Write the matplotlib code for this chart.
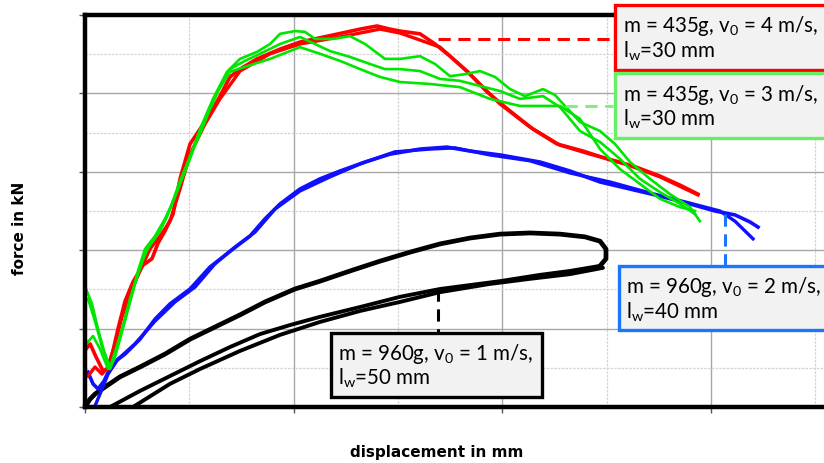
import matplotlib
matplotlib.use("Agg")
import matplotlib.pyplot as plt
from matplotlib.ticker import MultipleLocator

# drop tests, displacement in mm / force in kN
red_1_x = [0.1, 0.5, 1.05, 1.73, 2.2, 2.68, 3.16, 3.84, 4.6, 5.56, 6.42, 7.0, 7.67, 8.44, 9.11, 10.07,
           11.03, 12.27, 12.94, 13.9, 14.86, 16.49, 18.7, 20.61, 23.78, 26.37, 28.0, 29.24, 30.2, 32.12,
           33.56, 35.0, 36.62, 38.54, 40.75, 42.95, 45.25, 47.75, 50.62, 52.54, 55.13, 57.05, 58.77]
red_1_y = [1.48, 1.61, 1.28, 0.92, 0.97, 1.43, 1.99, 2.70, 3.19, 3.62, 3.78, 4.18, 4.49, 4.92, 5.82, 6.71,
           7.09, 7.60, 7.93, 8.42, 8.62, 8.88, 9.13, 9.31, 9.49, 9.64, 9.72, 9.64, 9.59, 9.52,
           9.26, 8.95, 8.57, 8.04, 7.55, 7.09, 6.71, 6.53, 6.28, 6.15, 5.89, 5.66, 5.43]
red_2_x = [0.29, 0.96, 1.63, 2.2, 2.88, 3.55, 4.31, 5.27, 6.23, 7.19, 8.15, 9.11, 10.07, 11.51, 12.94,
           14.86, 17.74, 20.61, 24.45, 28.28, 30.2, 34.04, 36.91, 39.79, 42.67, 45.54, 48.42, 51.29,
           55.13, 58.77]
red_2_y = [0.79, 1.02, 0.84, 1.02, 1.61, 2.30, 2.88, 3.47, 4.03, 4.36, 4.74, 5.56, 6.45, 7.22, 7.86,
           8.57, 9.01, 9.26, 9.44, 9.64, 9.54, 9.18, 8.49, 7.73, 7.14, 6.68, 6.45, 6.25,
           5.87, 5.41]

green_1_x = [0.1, 0.67, 1.25, 1.82, 2.4, 2.88, 3.36, 3.93, 4.51, 5.08, 5.75, 6.71, 7.67, 8.34, 9.11,
             10.07, 11.03, 12.27, 13.61, 14.86, 16.49, 17.74, 18.7, 20.13, 21.09, 22.05, 23.78, 25.41,
             26.85, 28.76, 30.2, 32.12, 33.56, 35.0, 36.43, 37.87, 39.31, 40.75, 42.19, 43.91, 45.06,
             46.02, 47.46, 49.38, 50.81, 52.25, 54.17, 56.09, 58.0, 58.96]
green_1_y = [3.01, 2.63, 1.99, 1.43, 0.97, 1.28, 1.79, 2.30, 2.88, 3.47, 4.03, 4.36, 4.80, 5.18, 5.69,
             6.33, 7.09, 7.86, 8.55, 8.88, 9.06, 9.26, 9.52, 9.59, 9.57, 9.39, 9.39, 9.46,
             9.26, 8.88, 8.88, 8.95, 8.75, 8.44, 8.49, 8.57, 8.42, 8.11, 7.93, 8.11, 7.96,
             7.68, 7.27, 7.04, 6.71, 6.25, 5.82, 5.43, 5.10, 4.74]
green_2_x = [0.1, 0.77, 1.44, 2.21, 2.78, 3.36, 4.12, 4.79, 5.47, 6.23, 7.19, 8.15, 9.11, 10.07, 11.03,
             11.98, 12.94, 13.9, 15.34, 16.78, 18.7, 20.61, 22.05, 23.49, 25.41, 27.32, 28.76, 30.2,
             32.12, 34.04, 35.95, 37.87, 39.79, 41.71, 43.91, 45.54, 47.46, 49.38, 51.29, 53.21,
             55.13, 57.05, 58.49]
green_2_y = [1.61, 1.81, 1.48, 0.97, 1.22, 1.73, 2.50, 3.14, 3.72, 4.16, 4.49, 5.05, 5.77, 6.38, 6.96,
             7.60, 8.16, 8.62, 8.83, 9.01, 9.26, 9.44, 9.26, 9.08, 8.93, 8.75, 8.62, 8.62,
             8.57, 8.37, 8.32, 8.19, 8.06, 7.86, 7.93, 7.65, 7.04, 6.76, 6.33, 5.82,
             5.48, 5.18, 4.92]
green_3_x = [0.29, 0.96, 1.63, 2.4, 2.97, 3.55, 4.31, 5.08, 5.85, 6.81, 7.77, 8.72, 9.68, 10.64, 11.6,
             12.75, 13.9, 15.82, 17.74, 19.65, 20.61, 22.53, 24.45, 26.37, 28.28, 30.2, 33.08, 35.95,
             38.83, 41.71, 45.54, 47.46, 49.38, 51.29, 53.21, 55.13, 57.05, 58.49]
green_3_y = [2.76, 2.19, 1.53, 1.02, 1.48, 1.99, 2.76, 3.39, 3.98, 4.34, 4.80, 5.43, 6.12, 6.79, 7.40,
             8.06, 8.55, 8.72, 8.88, 9.08, 9.18, 9.01, 8.83, 8.62, 8.42, 8.29, 8.24, 8.16,
             7.86, 7.68, 7.68, 7.35, 6.58, 6.07, 5.69, 5.31, 5.10, 5.00]

blue_1_x = [0.29, 0.77, 1.25, 1.82, 2.59, 3.84, 5.27, 6.71, 8.15, 10.07, 11.98, 14.19, 15.82, 17.26,
            18.7, 20.61, 22.53, 24.45, 26.85, 29.24, 32.12, 34.71, 36.91, 39.79, 43.62, 46.5, 49.38,
            52.25, 55.13, 58.0, 60.4, 62.32, 63.76, 64.53]
blue_1_y = [0.89, 0.59, 0.46, 0.66, 1.10, 1.35, 1.73, 2.24, 2.63, 3.01, 3.57, 4.03, 4.36, 4.80,
            5.18, 5.56, 5.82, 6.02, 6.25, 6.45, 6.58, 6.63, 6.53, 6.43, 6.25, 6.02, 5.74,
            5.56, 5.38, 5.18, 5.00, 4.90, 4.72, 4.59]
blue_2_x = [0.96, 1.44, 2.21, 3.16, 4.79, 6.71, 8.63, 10.55, 12.46, 14.38, 16.3, 18.22, 20.61, 23.49,
            26.37, 29.72, 33.08, 35.47, 38.83, 42.67, 46.5, 50.34, 54.17, 58.0, 60.88, 62.32, 63.28,
            64.05]
blue_2_y = [0.03, 0.33, 0.84, 1.22, 1.61, 2.19, 2.68, 3.06, 3.65, 4.08, 4.46, 5.05, 5.51, 5.87,
            6.20, 6.51, 6.58, 6.61, 6.43, 6.28, 5.97, 5.74, 5.46, 5.20, 5.00, 4.74, 4.49,
            4.29]

black_load_x = [0.0, 0.48, 0.96, 1.92, 3.36, 5.27, 7.67, 10.07, 12.46, 14.86, 17.26, 20.13, 22.53,
                25.41, 28.28, 31.16, 34.04, 36.91, 39.79, 42.67, 45.54, 47.94, 49.38, 49.95, 49.95,
                49.38]
black_load_y = [0.0, 0.20, 0.33, 0.51, 0.77, 1.02, 1.35, 1.73, 2.04, 2.35, 2.68, 3.01, 3.21,
                3.47, 3.72, 3.95, 4.16, 4.31, 4.41, 4.44, 4.41, 4.34, 4.23, 4.03, 3.78,
                3.60]
black_unload_1_x = [49.38, 46.5, 43.62, 39.79, 36.91, 34.04, 30.2, 26.37, 22.53, 19.65, 16.78, 13.9,
                    11.03, 8.15, 5.27, 2.4]
black_unload_1_y = [3.60, 3.47, 3.37, 3.21, 3.11, 3.01, 2.81, 2.55, 2.30, 2.09, 1.86, 1.53,
                    1.17, 0.79, 0.41, 0.0]
black_unload_2_x = [49.66, 46.5, 42.67, 38.83, 34.04, 30.2, 26.37, 22.53, 18.7, 14.86, 11.03, 8.15, 4.6]
black_unload_2_y = [3.55, 3.39, 3.27, 3.14, 2.93, 2.68, 2.45, 2.17, 1.84, 1.43, 0.97, 0.59, 0.0]

labels = ["m = 435g, v$_0$ = 4 m/s,\nl$_\\mathrm{w}$=30 mm",
          "m = 435g, v$_0$ = 3 m/s,\nl$_\\mathrm{w}$=30 mm",
          "m = 960g, v$_0$ = 2 m/s,\nl$_\\mathrm{w}$=40 mm",
          "m = 960g, v$_0$ = 1 m/s,\nl$_\\mathrm{w}$=50 mm"]

RED = "#ff0000"
GREEN = "#00e600"
BLUE = "#1010ff"

plt.rcParams["mathtext.fontset"] = "custom"
plt.rcParams["mathtext.rm"] = "Lato"

fig = plt.figure(figsize=(8.24, 4.64), dpi=100)
# axes run past the right edge of the figure
ax = fig.add_axes([85 / 824, 56 / 464, 75 * 10.43 / 824, 392 / 464])
ax.set_xlim(0, 75)
ax.set_ylim(0, 10)

ax.xaxis.set_major_locator(MultipleLocator(20))
ax.xaxis.set_minor_locator(MultipleLocator(10))
ax.yaxis.set_major_locator(MultipleLocator(2))
ax.yaxis.set_minor_locator(MultipleLocator(1))
ax.tick_params(which="major", direction="out", length=4, width=1, color="#555555",
               labelbottom=False, labelleft=False)
ax.tick_params(which="minor", length=0)
ax.grid(which="major", color="#a8a8a8", lw=1.0)
ax.grid(which="minor", color="#d4d4d4", lw=0.9, ls=(0, (2, 1)))
ax.set_axisbelow(True)
for s in ax.spines.values():
    s.set_linewidth(3.2)
    s.set_color("black")

# black loops
ax.plot(black_unload_2_x, black_unload_2_y, color="black", lw=2.8, solid_capstyle="round")
ax.plot(black_unload_1_x, black_unload_1_y, color="black", lw=2.8, solid_capstyle="round")
ax.plot(black_load_x, black_load_y, color="black", lw=3.4, solid_capstyle="round")

ax.plot(blue_2_x, blue_2_y, color=BLUE, lw=2.4)
ax.plot(blue_1_x, blue_1_y, color=BLUE, lw=2.6)

ax.plot(red_2_x, red_2_y, color=RED, lw=2.4)
ax.plot(red_1_x, red_1_y, color=RED, lw=2.6)

ax.plot(green_3_x, green_3_y, color=GREEN, lw=1.9)
ax.plot(green_2_x, green_2_y, color=GREEN, lw=1.9)
ax.plot(green_1_x, green_1_y, color=GREEN, lw=1.9)

# leader lines
ax.plot([33.84, 50.62], [9.39, 9.39], color=RED, lw=2.2, ls=(0, (4, 2.5)))
ax.plot([46.02, 50.62], [7.68, 7.68], color="#80ee80", lw=2.2, ls=(0, (4, 2.5)))
ax.plot([61.36, 61.36], [4.92, 3.60], color="#1a75ff", lw=2.2, ls=(0, (4, 2.5)))
ax.plot([33.84, 33.84], [3.01, 1.89], color="black", lw=2.2, ls=(0, (4, 2.5)))

box_edges = [RED, "#66ee66", "#1a75ff", "black"]
box_pos = [(51.6, 9.42), (51.6, 7.68), (51.9, 2.77), (24.3, 1.07)]
for s, (bx, by), ec in zip(labels, box_pos, box_edges):
    ax.text(bx, by, s, ha="left", va="center", fontsize=14.8, family="Lato",
            linespacing=1.05, zorder=5,
            bbox=dict(boxstyle="square,pad=0.38", fc="#f2f2f2", ec=ec, lw=2.4))

fig.text(20 / 824, 1 - 228 / 464, "force in kN", rotation=90, ha="center", va="center",
         fontweight="bold", fontsize=11)
fig.text(437 / 824, 1 - 453 / 464, "displacement in mm", ha="center", va="center",
         fontweight="bold", fontsize=11)

fig.savefig("out.png", dpi=100)
